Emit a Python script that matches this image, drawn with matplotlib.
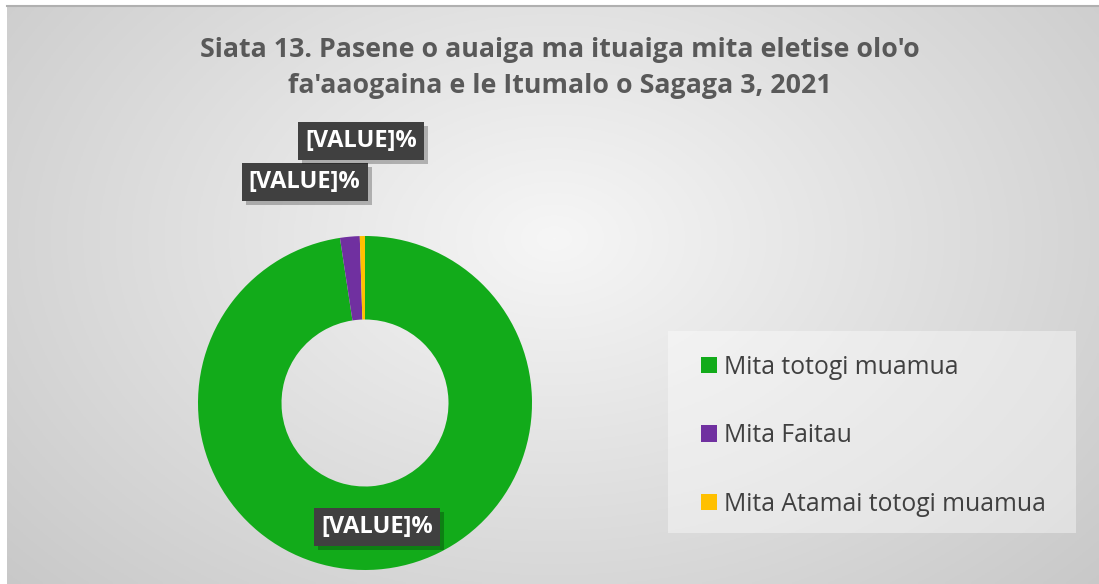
import numpy as np
import matplotlib.pyplot as plt
from matplotlib.patches import Rectangle, Patch
import matplotlib.patheffects as pe

# 数据
categories = ['Mita totogi muamua', 'Mita Faitau', 'Mita Atamai totogi muamua']
values = [97.6, 1.9, 0.5]
colors = ['#12AB1A', '#7030A0', '#FFC000']
label_text = '[VALUE]%'
title = "Siata 13. Pasene o auaiga ma ituaiga mita eletise olo'o\nfa'aaogaina e le Itumalo o Sagaga 3, 2021"

plt.rcParams['font.family'] = ['Open Sans', 'DejaVu Sans']

W, H = 1099, 584
fig = plt.figure(figsize=(W / 100, H / 100), dpi=100)
fig.patch.set_facecolor('white')

# 背景：径向渐变
bg = fig.add_axes([7 / W, 0, 1 - 7 / W, 1 - 6 / H])
yy, xx = np.mgrid[0:200, 0:400]
d = np.sqrt(((xx - 200) / 230.0) ** 2 + ((yy - 80) / 150.0) ** 2)
g = 0.965 - 0.19 * np.clip(d, 0, 1.25) / 1.25
bg.imshow(np.dstack([g, g, g]), aspect='auto', extent=[0, 1, 0, 1], origin='upper')
bg.set_xticks([])
bg.set_yticks([])
for s in ['right', 'bottom', 'left']:
    bg.spines[s].set_visible(False)
bg.spines['top'].set_color('#b0b0b0')
bg.spines['top'].set_linewidth(1.5)

# 圆环图
cx, cy, R = 365, 403, 167
ax = fig.add_axes([(cx - R) / W, (H - cy - R) / H, 2 * R / W, 2 * R / H])
ax.set_axis_off()
wedges, _ = ax.pie(values, colors=colors, startangle=90, counterclock=False,
                   radius=1, wedgeprops=dict(width=0.5, linewidth=0))
ax.set_xlim(-1, 1)
ax.set_ylim(-1, 1)

# 数据标签位置（相对圆环）
label_pos = [(0.072, -0.743), (-0.362, 1.323), (-0.024, 1.569)]
for i, (x, y) in enumerate(label_pos):
    t = ax.text(x, y, label_text, ha='center', va='center', color='white',
                fontsize=17, fontweight='bold', clip_on=False, zorder=5,
                bbox=dict(boxstyle='square,pad=0.3', facecolor='#404040',
                          linewidth=0))
    t.get_bbox_patch().set_path_effects([
        pe.SimplePatchShadow(offset=(3, -3), shadow_rgbFace='black', alpha=0.25),
        pe.Normal()])

# 标题
fig.text(560 / W, 1 - 68 / H, title, ha='center', va='center', fontsize=19.3,
         fontweight='bold', color='#595959', linespacing=1.52)

# 图例
fig.patches.append(Rectangle((668 / W, (H - 533) / H), 408 / W, 202 / H,
                             transform=fig.transFigure, facecolor='white',
                             alpha=0.4, edgecolor='none', zorder=1))
handles = [Patch(facecolor=c, edgecolor='none') for c in colors]
fig.legend(handles, categories, loc='upper left',
           bbox_to_anchor=(691 / W, 1 - 345 / H), frameon=False,
           fontsize=17.8, labelcolor='#404040', handlelength=0.65,
           handleheight=0.65, handletextpad=0.3, labelspacing=1.76,
           borderaxespad=0)

fig.savefig('out.png', dpi=100)
